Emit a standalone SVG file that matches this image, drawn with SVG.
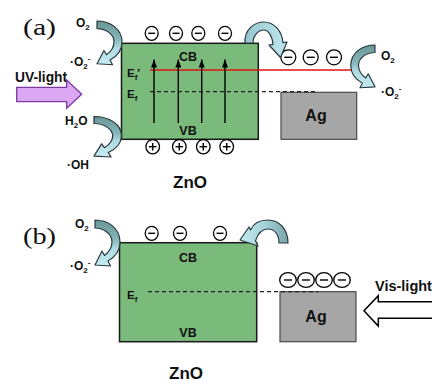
<svg xmlns="http://www.w3.org/2000/svg" width="432" height="381" viewBox="0 0 432 381">
<style>
.t{font-family:"Liberation Sans",Arial,sans-serif;font-weight:bold;fill:#111;font-size:12px}
.lbl{font-family:"Liberation Serif","Times New Roman",serif;font-size:23px;fill:#111}
.zno{fill:#7aba7a;stroke:#1a1a1a;stroke-width:1.5}
.ag{fill:#a6a6a6;stroke:#4a4a4a;stroke-width:1.2}
.curve{stroke:#2a3a40;stroke-width:1.2;stroke-linejoin:round}
.vert{stroke:#000;stroke-width:1.4;marker-end:url(#ah)}
.dash{stroke:#222;stroke-width:1.2;stroke-dasharray:4 3}
.chg{fill:#fff;stroke:#000;stroke-width:1.3}
.sgn{stroke:#000;stroke-width:1.4}
</style>
<defs>
<linearGradient id="gv" x1="0" y1="0" x2="0" y2="1">
<stop offset="0" stop-color="#6a9696"/>
<stop offset="0.4" stop-color="#86b4b8"/>
<stop offset="0.62" stop-color="#b0dce4"/>
<stop offset="1" stop-color="#c6ecf2"/>
</linearGradient>
<linearGradient id="gl" x1="0" y1="0" x2="1" y2="0">
<stop offset="0" stop-color="#98c6ce"/>
<stop offset="1" stop-color="#bfe6ee"/>
</linearGradient>
<linearGradient id="gr" x1="1" y1="0" x2="0" y2="0">
<stop offset="0" stop-color="#7aa6aa"/>
<stop offset="0.5" stop-color="#a6d2da"/>
<stop offset="1" stop-color="#c4eaf0"/>
</linearGradient>
<path id="carrow" class="curve" fill="url(#gv)" d="M0,0 C14,0 25,9 25,22 C25,30 20,37 13,41 L15.5,46 L0,45 L7,31 L9.5,35.5 C14,32 17,27 17,22 C17,14 9,8 0,8 Z"/>
<marker id="ah" viewBox="0 0 8 6" refX="8" refY="3" markerWidth="8" markerHeight="6" markerUnits="userSpaceOnUse" orient="auto">
<path d="M0,0 L8,3 L0,6 Z" fill="#000"/>
</marker>
<g id="minus"><ellipse class="chg" rx="6.5" ry="7"/><line class="sgn" x1="-3.5" x2="3.5" y1="0" y2="0"/></g>
<g id="minusL"><ellipse class="chg" rx="7.5" ry="7.5"/><line class="sgn" x1="-4" x2="4" y1="0" y2="0"/></g>
<g id="minusB"><ellipse class="chg" rx="8.3" ry="7.3"/><line class="sgn" x1="-4" x2="4" y1="0" y2="0"/></g>
<g id="plus"><ellipse class="chg" rx="6.8" ry="7.2"/><line class="sgn" x1="-3.8" x2="3.8" y1="0" y2="0"/><line class="sgn" x1="0" x2="0" y1="-3.8" y2="3.8"/></g>
</defs>

<!-- Panel (a) -->
<text class="lbl" x="23" y="34.5" textLength="33" lengthAdjust="spacingAndGlyphs">(a)</text>

<g id="zno-a">
<rect class="zno" x="121.5" y="43.3" width="136.8" height="96"/>
<text class="t" x="188" y="61" text-anchor="middle" style="font-size:12.5px">CB</text>
<text class="t" x="188" y="135" text-anchor="middle" style="font-size:12.5px">VB</text>
<text class="t" x="127" y="77" style="font-size:11.5px">E<tspan font-size="8" dy="3">f</tspan><tspan dy="-3">′</tspan></text>
<text class="t" x="127" y="98" style="font-size:11.5px">E<tspan font-size="8" dy="3">f</tspan></text>
<text class="t" x="190" y="188" text-anchor="middle" style="font-size:17px">ZnO</text>
</g>

<g id="ag-a">
<rect class="ag" x="281" y="92.3" width="75.7" height="47"/>
<text class="t" x="316" y="121" text-anchor="middle" style="font-size:16px">Ag</text>
</g>

<g id="levels-a">
<line x1="150" y1="70" x2="351.5" y2="70" stroke="#e01010" stroke-width="1.5"/>
<line class="dash" x1="150" y1="91.7" x2="318" y2="91.7"/>
</g>

<g id="electrons-a">
<use href="#minus" x="151.7" y="33.3"/>
<use href="#minus" x="176" y="33.3"/>
<use href="#minus" x="198.3" y="33.3"/>
<use href="#minus" x="225" y="33.3"/>
<use href="#minusL" x="288.3" y="57.3"/>
<use href="#minusL" x="310.7" y="57.3"/>
<use href="#minusL" x="334" y="57.3"/>
</g>
<g id="holes-a">
<use href="#plus" x="152.7" y="146.7"/>
<use href="#plus" x="179.3" y="146.7"/>
<use href="#plus" x="203.3" y="146.7"/>
<use href="#plus" x="226.7" y="146.7"/>
</g>

<g id="species-a">
<text class="t" x="76" y="26.5">O<tspan font-size="8" dy="3">2</tspan></text>
<text class="t" x="70" y="66">·O<tspan font-size="8" dy="3">2</tspan><tspan font-size="8" dy="-8">-</tspan></text>
<text class="t" x="65" y="124.5">H<tspan font-size="8" dy="3">2</tspan><tspan dy="-3">O</tspan></text>
<text class="t" x="67" y="169">·OH</text>
<text class="t" x="381" y="60">O<tspan font-size="8" dy="3">2</tspan></text>
<text class="t" x="381" y="96">·O<tspan font-size="8" dy="3">2</tspan><tspan font-size="8" dy="-8">-</tspan></text>
<text class="t" x="15" y="82" style="font-size:13.8px">UV-light</text>
</g>

<!-- Panel (b) -->
<text class="lbl" x="23" y="244" textLength="33" lengthAdjust="spacingAndGlyphs">(b)</text>

<g id="zno-b">
<rect class="zno" x="119.5" y="242.7" width="137.2" height="99"/>
<text class="t" x="188" y="261.5" text-anchor="middle" style="font-size:12.5px">CB</text>
<text class="t" x="188" y="337" text-anchor="middle" style="font-size:12.5px">VB</text>
<text class="t" x="127" y="299" style="font-size:11.5px">E<tspan font-size="8" dy="3">f</tspan></text>
<text class="t" x="186" y="378.5" text-anchor="middle" style="font-size:17px">ZnO</text>
</g>

<g id="ag-b">
<rect class="ag" x="280" y="291.7" width="76" height="50"/>
<text class="t" x="316" y="322" text-anchor="middle" style="font-size:16px">Ag</text>
</g>

<g id="levels-b">
<line class="dash" x1="148" y1="291.7" x2="318" y2="291.7"/>
</g>

<g id="electrons-b">
<use href="#minus" x="151.7" y="233.3"/>
<use href="#minus" x="180" y="233.3"/>
<use href="#minus" x="220" y="233.3"/>
<use href="#minusB" x="288" y="280"/>
<use href="#minusB" x="306" y="280"/>
<use href="#minusB" x="324" y="280"/>
<use href="#minusB" x="342" y="280"/>
</g>

<g id="species-b">
<text class="t" x="75" y="227.5">O<tspan font-size="8" dy="3">2</tspan></text>
<text class="t" x="70" y="270">·O<tspan font-size="8" dy="3">2</tspan><tspan font-size="8" dy="-8">-</tspan></text>
<text class="t" x="375" y="291" style="font-size:14.5px">Vis-light</text>
</g>

<g id="connectors">
<line class="vert" x1="154" y1="123" x2="154" y2="59.5"/>
<line class="vert" x1="178.3" y1="123" x2="178.3" y2="59.5"/>
<line class="vert" x1="201.7" y1="123" x2="201.7" y2="59.5"/>
<line class="vert" x1="225" y1="123" x2="225" y2="59.5"/>
<use href="#carrow" transform="translate(97,21) scale(1,0.95)"/>
<use href="#carrow" transform="translate(94,116.5) scale(1.1,0.88)"/>
<use href="#carrow" transform="translate(375,45) scale(-0.97,0.93)"/>
<use href="#carrow" transform="translate(95,220)"/>
<path class="curve" fill="url(#gl)" d="M245,43 C244,30 254,22 264,22 C274,22 282,31 283,42.7 L287,42 L280.5,57.5 L269,45 L273,44.3 C272,35 268,30 264,30 C258,30 253,36 253,43 Z"/>
<path class="curve" fill="url(#gr)" d="M288,243 C288,229 279,220 268,220 C259,220 253,224 250.5,230 L249,227 L240,240 L258,246 L255.5,240.7 C258,233 263,229 268,229 C275,229 279,235 279,243 Z"/>
<path d="M16.7,87.3 H66.7 V80 L81.7,94.2 L66.7,108.3 V101.7 H16.7 Z" fill="#dba6f2" stroke="#7a3a9e" stroke-width="1.3" stroke-linejoin="miter"/>
<path d="M440,301.7 H378.3 V295.7 L364,310.8 L378.3,326 V318.3 H440" fill="#fff" stroke="#000" stroke-width="1.5"/>
</g>
</svg>
